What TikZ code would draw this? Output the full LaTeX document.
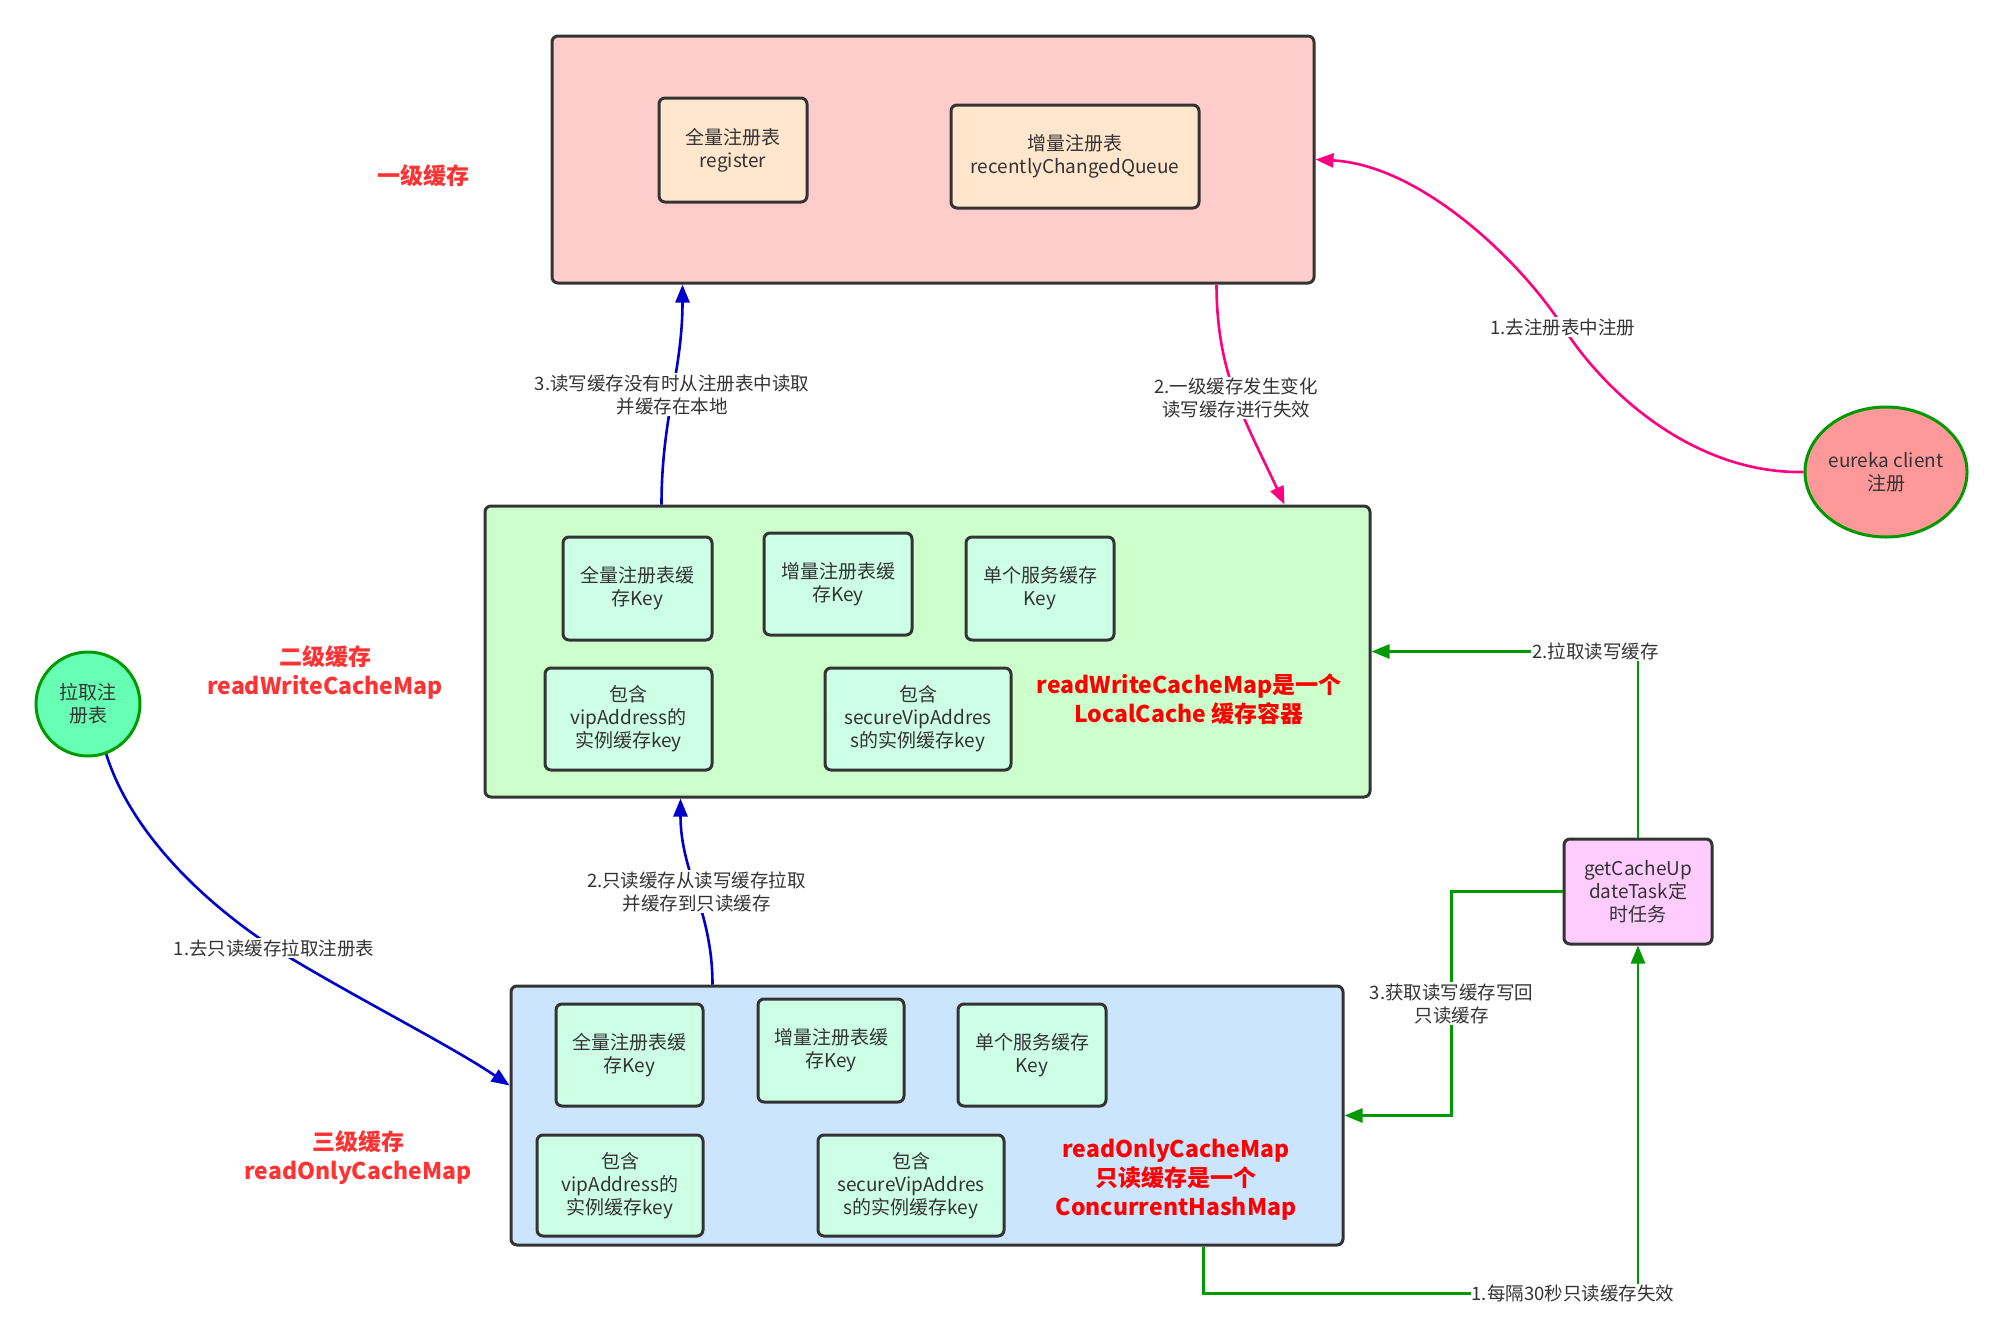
\documentclass[tikz,border=0pt]{standalone}
\usepackage{fontspec}
\setmainfont{Noto Sans CJK SC}
\usetikzlibrary{arrows.meta,shapes.geometric,calc}
\definecolor{bordc}{HTML}{333333}
\definecolor{txtc}{HTML}{333333}
\definecolor{redc}{HTML}{FF3333}
\definecolor{redd}{HTML}{FF0000}
\definecolor{pinkbg}{HTML}{FFCCCC}
\definecolor{peach}{HTML}{FFE6CC}
\definecolor{greenbg}{HTML}{CCFFCC}
\definecolor{mint}{HTML}{CCFFE6}
\definecolor{bluebg}{HTML}{CCE5FF}
\definecolor{salmon}{HTML}{FF9999}
\definecolor{seafoam}{HTML}{66FFB3}
\definecolor{lilac}{HTML}{FFCCFF}
\definecolor{gline}{HTML}{009900}
\definecolor{pline}{HTML}{FF0080}
\definecolor{bline}{HTML}{0000CC}
\tikzset{
  bigbox/.style={draw=bordc, line width=3pt, rounded corners=6pt, inner sep=0pt},
  inbox/.style={draw=bordc, line width=3pt, rounded corners=6pt, align=center, text=txtc, inner sep=0pt, font=\fontsize{19}{23}\selectfont},
  lbl/.style={fill=white, align=center, text=txtc, inner sep=1pt, font=\fontsize{18.5}{23}\selectfont},
  redlbl/.style={text=redc, align=center, font=\fontsize{23}{29}\selectfont\bfseries},
  redin/.style={text=redd, align=center, font=\fontsize{23}{29}\selectfont\bfseries},
  conn/.style={line width=2.6pt, -{Triangle[length=18pt,width=14pt]}},
}
\begin{document}
\begin{tikzpicture}[x=1pt,y=-1pt]
\useasboundingbox (0,0) rectangle (2000,1326);
% level 1
\node[bigbox, fill=pinkbg, minimum width=762, minimum height=247] (top) at (933,159.5) {};
\node[inbox, fill=peach, minimum width=148, minimum height=104] (reg) at (733,150) {全量注册表\\register};
\node[inbox, fill=peach, minimum width=248, minimum height=103] (recent) at (1075,156.5) {增量注册表\\recentlyChangedQueue};
\node[redlbl] (l1) at (423,176) {一级缓存};
% level 2
\node[bigbox, fill=greenbg, minimum width=885, minimum height=291] (rw) at (927.5,651.5) {};
\node[inbox, fill=mint, minimum width=149, minimum height=103] (g1) at (637.5,588.5) {全量注册表缓\\存Key};
\node[inbox, fill=mint, minimum width=148, minimum height=102] (g2) at (838,584) {增量注册表缓\\存Key};
\node[inbox, fill=mint, minimum width=148, minimum height=103] (g3) at (1040,588.5) {单个服务缓存\\Key};
\node[inbox, fill=mint, minimum width=167, minimum height=102] (g4) at (628.5,719) {包含\\vipAddress的\\实例缓存key};
\node[inbox, fill=mint, minimum width=186, minimum height=102] (g5) at (918,719) {包含\\secureVipAddres\\s的实例缓存key};
\node[redin] (rwt) at (1189,699) {readWriteCacheMap是一个\\LocalCache 缓存容器};
\node[redlbl] (l2) at (325,672) {二级缓存\\readWriteCacheMap};
% level 3
\node[bigbox, fill=bluebg, minimum width=832, minimum height=259] (ro) at (927,1115.5) {};
\node[inbox, fill=mint, minimum width=147, minimum height=102] (b1) at (629.5,1055) {全量注册表缓\\存Key};
\node[inbox, fill=mint, minimum width=146, minimum height=103] (b2) at (831,1050.5) {增量注册表缓\\存Key};
\node[inbox, fill=mint, minimum width=148, minimum height=102] (b3) at (1032,1055) {单个服务缓存\\Key};
\node[inbox, fill=mint, minimum width=166, minimum height=101] (b4) at (620,1185.5) {包含\\vipAddress的\\实例缓存key};
\node[inbox, fill=mint, minimum width=186, minimum height=101] (b5) at (911,1185.5) {包含\\secureVipAddres\\s的实例缓存key};
\node[redin] (rot) at (1176,1180) {readOnlyCacheMap\\只读缓存是一个\\ConcurrentHashMap};
\node[redlbl] (l3) at (358,1158) {三级缓存\\readOnlyCacheMap};
% others
\node[ellipse, draw=gline, line width=3pt, fill=salmon, minimum width=153, minimum height=130, inner sep=0pt, align=center, text=txtc, font=\fontsize{19}{23}\selectfont] (eureka) at (1886,472) {eureka client\\注册};
\node[circle, draw=gline, line width=3pt, fill=seafoam, minimum size=104, inner sep=0pt, align=center, text=txtc, font=\fontsize{19}{23}\selectfont] (pull) at (88,704) {拉取注\\册表};
\node[inbox, fill=lilac, minimum width=148, minimum height=105] (task) at (1638,891.5) {getCacheUp\\dateTask定\\时任务};
% connectors
\draw[conn, pline] (eureka.west) .. controls (1700,474) and (1610,400) .. (1563,327) node[lbl] {1.去注册表中注册} .. controls (1520,260) and (1420,165) .. (top.east);
\draw[conn, pline] ($(top.south west)+(666,0)$) to[out=-90,in=115] node[lbl, pos=0.5] {2.一级缓存发生变化\\读写缓存进行失效} ($(rw.north west)+(801,0)$);
\draw[conn, bline] ($(rw.north west)+(178,0)$) to[out=90,in=-90] node[lbl, pos=0.5] {3.读写缓存没有时从注册表中读取\\并缓存在本地} ($(top.south west)+(132,0)$);
\draw[conn, bline] ($(ro.north west)+(203,0)$) to[out=90,in=-90] node[lbl, pos=0.5] {2.只读缓存从读写缓存拉取\\并缓存到只读缓存} ($(rw.south west)+(197,0)$);
\draw[conn, bline] (pull.-70) .. controls (130,830) and (200,900) .. (274,948) node[lbl] {1.去只读缓存拉取注册表} .. controls (350,995) and (450,1045) .. ($(ro.north west)+(0,101)$);
\draw[conn, gline] (task.north) |- node[lbl, pos=0.58] {2.拉取读写缓存} (rw.east);
\draw[conn, gline] (task.west) -- ++(-111,0) |- node[lbl, pos=0.25] {3.获取读写缓存写回\\只读缓存} (ro.east);
\draw[conn, gline] ($(ro.south west)+(694,0)$) -- ++(0,47) -| node[lbl, pos=0.425] {1.每隔30秒只读缓存失效} (task.south);
\end{tikzpicture}
\end{document}
